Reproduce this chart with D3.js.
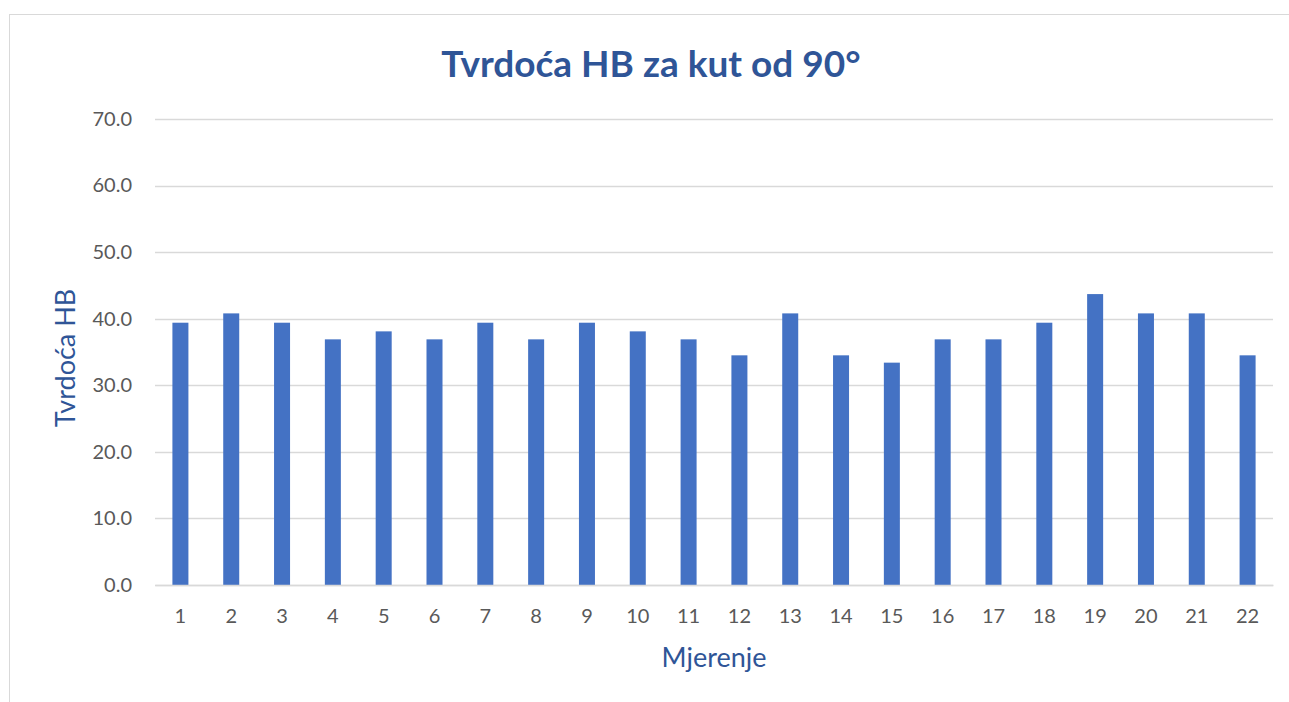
<!DOCTYPE html>
<html>
<head>
<meta charset="utf-8">
<script src="https://cdn.jsdelivr.net/npm/d3@7"></script>
<style>
  body { margin: 0; background: #fff; }
  text { font-family: Lato, "Open Sans", sans-serif; }
</style>
</head>
<body>
<div id="chart"></div>
<script>
var measurements = ["1","2","3","4","5","6","7","8","9","10","11","12","13","14","15","16","17","18","19","20","21","22"];
var hardness = [39.4, 40.8, 39.4, 36.9, 38.1, 36.9, 39.4, 36.9, 39.4, 38.1, 36.9, 34.5, 40.8, 34.5, 33.4, 36.9, 36.9, 39.4, 43.7, 40.8, 40.8, 34.5];
var yTicks = [0, 10, 20, 30, 40, 50, 60, 70];

var svgWidth = 1289;
var svgHeight = 702;

var margin = { top: 119, right: 16, bottom: 117, left: 155 };
var width = svgWidth - margin.left - margin.right;
var height = svgHeight - margin.top - margin.bottom;

var svg = d3.select("#chart")
    .append("svg")
    .attr("width", svgWidth)
    .attr("height", svgHeight);

// chart border
svg.append("rect")
    .attr("x", 9.5)
    .attr("y", 14.5)
    .attr("width", svgWidth + 10)
    .attr("height", svgHeight + 10)
    .attr("fill", "none")
    .attr("stroke", "#d9d9d9")
    .attr("stroke-width", 1);

var chartGroup = svg.append("g")
    .attr("transform", `translate(${margin.left}, ${margin.top})`);

var xScale = d3.scaleBand()
    .domain(measurements)
    .range([0, width])
    .paddingInner(0.685)
    .paddingOuter(0.3425);

var yScale = d3.scaleLinear()
    .domain([0, 70])
    .range([height, 0]);

// gridlines
chartGroup.selectAll(".grid")
    .data(yTicks)
    .enter()
    .append("line")
    .attr("x1", 0)
    .attr("x2", width)
    .attr("y1", d => Math.round(yScale(d)) + 0.5)
    .attr("y2", d => Math.round(yScale(d)) + 0.5)
    .attr("stroke", "#d9d9d9")
    .attr("stroke-width", 1.5);

// y tick labels
var leftAxis = d3.axisLeft(yScale)
    .tickValues(yTicks)
    .tickFormat(d3.format(".1f"))
    .tickSize(0)
    .tickPadding(23);

var yAxisG = chartGroup.append("g").call(leftAxis);
yAxisG.select(".domain").remove();
yAxisG.selectAll("text")
    .attr("fill", "#595959")
    .style("font-size", "20px")
    .style("font-family", "Lato, sans-serif");

// bars
chartGroup.selectAll(".bar")
    .data(hardness)
    .enter()
    .append("rect")
    .attr("x", (d, i) => xScale(measurements[i]))
    .attr("y", d => yScale(d))
    .attr("width", xScale.bandwidth())
    .attr("height", d => height - yScale(d))
    .attr("fill", "#4472c4");

// x axis
var bottomAxis = d3.axisBottom(xScale)
    .tickSize(0)
    .tickPadding(24);

var xAxisG = chartGroup.append("g")
    .attr("transform", `translate(0, ${height})`)
    .call(bottomAxis);
xAxisG.select(".domain")
    .attr("stroke", "#d9d9d9")
    .attr("stroke-width", 1.5);
xAxisG.selectAll("text")
    .attr("fill", "#595959")
    .style("font-size", "20px")
    .style("font-family", "Lato, sans-serif");

// title
svg.append("text")
    .attr("x", 651)
    .attr("y", 77)
    .attr("text-anchor", "middle")
    .attr("fill", "#2f5597")
    .style("font-size", "37px")
    .style("font-weight", "bold")
    .text("Tvrdoća HB za kut od 90°");

// axis labels
svg.append("text")
    .attr("transform", "translate(75, 358) rotate(-90)")
    .attr("text-anchor", "middle")
    .attr("fill", "#2f5597")
    .style("font-size", "27px")
    .text("Tvrdoća HB");

svg.append("text")
    .attr("x", 714)
    .attr("y", 667)
    .attr("text-anchor", "middle")
    .attr("fill", "#2f5597")
    .style("font-size", "27px")
    .text("Mjerenje");
</script>
</body>
</html>
